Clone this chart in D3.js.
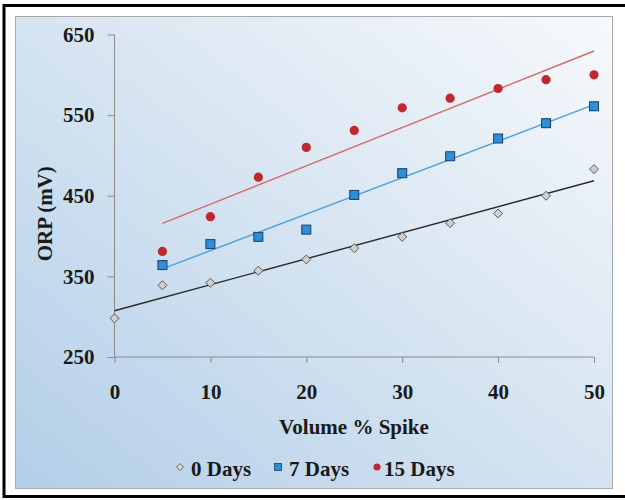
<!DOCTYPE html>
<html>
<head>
<meta charset="utf-8">
<script src="https://cdn.jsdelivr.net/npm/d3@7"></script>
<style>
  html, body { margin: 0; background: #fff; overflow: hidden; }
  svg { display: block; }
  text { font-family: "Liberation Serif", serif; font-weight: bold; fill: #1a1a1a; }
</style>
</head>
<body>
<div id="chart"></div>
<script>
// data
const spike0 = [0, 5, 10, 15, 20, 25, 30, 35, 40, 45, 50];
const spike = [5, 10, 15, 20, 25, 30, 35, 40, 45, 50];
const days0 = [298, 339, 342, 357, 371, 385, 399, 416, 428, 450, 483];
const days7 = [364, 390, 399, 408, 451, 478, 499, 521, 540, 561];
const days15 = [381, 424, 473, 510, 531, 559, 571, 583, 594, 600];
const yTicks = [250, 350, 450, 550, 650];
const xTicks = [0, 10, 20, 30, 40, 50];
const seriesNames = ["0 Days", "7 Days", "15 Days"];

const W = 625, H = 500;
const svg = d3.select("#chart").append("svg")
  .attr("width", W).attr("height", H);

// background gradient
const defs = svg.append("defs");
const grad = defs.append("linearGradient")
  .attr("id", "bg").attr("x1", "0").attr("y1", "1").attr("x2", "1").attr("y2", "0");
grad.append("stop").attr("offset", "0%").attr("stop-color", "#b3cee8");
grad.append("stop").attr("offset", "55%").attr("stop-color", "#d9e6f2");
grad.append("stop").attr("offset", "100%").attr("stop-color", "#f7f9fc");

svg.append("rect")
  .attr("x", 4).attr("y", 5.5).attr("width", 640).attr("height", 491)
  .attr("fill", "#fff").attr("stroke", "#000").attr("stroke-width", 3);

svg.append("rect")
  .attr("x", 15.5).attr("y", 16.5).attr("width", 597).attr("height", 472)
  .attr("fill", "url(#bg)").attr("stroke", "#a8a8a8").attr("stroke-width", 1);

/* Scale */
const x = d3.scaleLinear().domain([0, 50]).range([114.5, 594]);
const y = d3.scaleLinear().domain([250, 650]).range([357, 34.5]);

/* Axis */
const yAxis = d3.axisLeft(y).tickValues(yTicks).tickSize(7).tickPadding(13);
const xAxis = d3.axisBottom(x).tickValues(xTicks).tickSize(6).tickPadding(21);

const gy = svg.append("g").attr("transform", `translate(${x(0)},0)`).call(yAxis);
const gx = svg.append("g").attr("transform", `translate(0,${y(250)})`).call(xAxis);
[gy, gx].forEach(g => {
  g.select(".domain").attr("stroke", "#8a8a8a");
  g.selectAll(".tick line").attr("stroke", "#8a8a8a");
  g.selectAll("text").style("font-size", "21px").attr("fill", "#1a1a1a");
});
gy.select(".domain").attr("d", `M0,${y(250)}V${y(650)}`);
gx.select(".domain").attr("d", `M${x(0)},0H${x(50)}`);

svg.append("text")
  .attr("transform", `translate(52,${(y(250) + y(650)) / 2 + 18}) rotate(-90)`)
  .attr("text-anchor", "middle")
  .style("font-size", "21px")
  .text("ORP (mV)");

svg.append("text")
  .attr("x", 354).attr("y", 434)
  .attr("text-anchor", "middle")
  .style("font-size", "21px")
  .text("Volume % Spike");

/* trend lines (least squares) */
function fit(xs, ys) {
  const mx = d3.mean(xs), my = d3.mean(ys);
  let sxy = 0, sxx = 0;
  xs.forEach((v, i) => { sxy += (v - mx) * (ys[i] - my); sxx += (v - mx) * (v - mx); });
  const b = sxy / sxx, a = my - b * mx;
  const x0 = d3.min(xs), x1 = d3.max(xs);
  return [[x0, a + b * x0], [x1, a + b * x1]];
}
const line = d3.line().x(d => x(d[0])).y(d => y(d[1]));

const trends = [
  { xs: spike0, ys: days0, color: "#2a2a2a" },
  { xs: spike, ys: days7, color: "#4a9fe0" },
  { xs: spike, ys: days15, color: "#d36a6a" }
];
svg.append("g").selectAll("path")
  .data(trends).enter()
  .append("path")
  .attr("d", d => line(fit(d.xs, d.ys)))
  .attr("fill", "none")
  .attr("stroke", d => d.color)
  .attr("stroke-width", 1.4);

/* markers */
const diamond = s => `M0,${-s}L${s},0L0,${s}L${-s},0Z`;

svg.append("g").selectAll("path")
  .data(spike0.map((v, i) => [v, days0[i]])).enter()
  .append("path")
  .attr("transform", d => `translate(${x(d[0])},${y(d[1])})`)
  .attr("d", diamond(4.5))
  .attr("fill", "#cfcfcf").attr("stroke", "#5a5a5a").attr("stroke-width", 1);

svg.append("g").selectAll("rect")
  .data(spike.map((v, i) => [v, days7[i]])).enter()
  .append("rect")
  .attr("x", d => x(d[0]) - 4.5).attr("y", d => y(d[1]) - 4.5)
  .attr("width", 9).attr("height", 9)
  .attr("fill", "#2b8fdc").attr("stroke", "#1b3d66").attr("stroke-width", 1);

svg.append("g").selectAll("circle")
  .data(spike.map((v, i) => [v, days15[i]])).enter()
  .append("circle")
  .attr("cx", d => x(d[0])).attr("cy", d => y(d[1]))
  .attr("r", 4.6)
  .attr("fill", "#c1272d");

/* legend */
const legend = svg.append("g").attr("transform", "translate(0,467)");
const lx = [180, 278, 377];
legend.append("path").attr("transform", `translate(${lx[0]},0)`)
  .attr("d", diamond(3.5)).attr("fill", "#d8d8d8").attr("stroke", "#666");
legend.append("rect").attr("x", lx[1] - 3.5).attr("y", -3.5).attr("width", 7).attr("height", 7)
  .attr("fill", "#2b8fdc").attr("stroke", "#1b3d66").attr("stroke-width", 0.8);
legend.append("circle").attr("cx", lx[2]).attr("cy", 0).attr("r", 3.6).attr("fill", "#c1272d");
legend.selectAll("text")
  .data(seriesNames).enter()
  .append("text")
  .attr("x", (d, i) => lx[i] + (i === 2 ? 7 : 11))
  .attr("y", 9)
  .style("font-size", "21px")
  .text(d => d);
</script>
</body>
</html>
